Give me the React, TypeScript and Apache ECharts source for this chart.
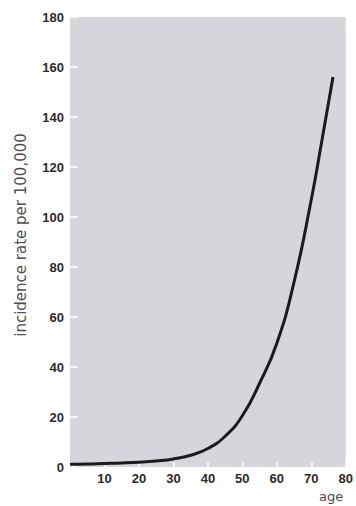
import React, { useEffect, useRef } from "react";
import * as echarts from "echarts";

const ages = [0, 5, 10, 15, 20, 25, 30, 35, 40, 45, 50, 55, 60, 65, 70, 73, 76.3];
const incidence = [1.1, 1.2, 1.4, 1.6, 1.9, 2.4, 3.2, 4.7, 7.4, 12.3, 20.5, 33.5, 49.5, 74, 107, 130, 156];
const yTicks = [0, 20, 40, 60, 80, 100, 120, 140, 160, 180];
const xTicks = [0, 10, 20, 30, 40, 50, 60, 70, 80];
const yName = "incidence rate per 100,000";
const xName = "age";

export default function App() {
  const ref = useRef<HTMLDivElement>(null);
  useEffect(() => {
    if (!ref.current) return;
    const chart = echarts.init(ref.current, null, { renderer: "svg" });
    const data = ages.map((a, i) => [a, incidence[i]]);
    chart.setOption({
      animation: false,
      backgroundColor: "#ffffff",
      grid: {
        left: 70,
        right: 8,
        top: 17,
        bottom: 39,
        show: true,
        backgroundColor: "#d8d4dc",
        borderWidth: 0,
      },
      xAxis: {
        type: "value",
        min: xTicks[0],
        max: xTicks[xTicks.length - 1],
        interval: 10,
        axisLine: { show: false },
        axisTick: { show: true, inside: true, length: 5, lineStyle: { color: "#ffffff", width: 1.5 } },
        splitLine: { show: false },
        axisLabel: {
          formatter: (v: number) => (v === 0 ? "" : String(v)),
          fontFamily: "Liberation Sans",
          fontWeight: "bold",
          fontSize: 13,
          color: "#2b2b2b",
          margin: 5,
        },
      },
      yAxis: {
        type: "value",
        min: yTicks[0],
        max: yTicks[yTicks.length - 1],
        interval: 20,
        name: yName,
        nameLocation: "middle",
        nameGap: 42,
        nameTextStyle: {
          fontFamily: "DejaVu Sans",
          fontSize: 15,
          color: "#4f4f4f",
          padding: [0, 0, 0, 14],
        },
        axisLine: { show: false },
        axisTick: { show: true, inside: true, length: 8, lineStyle: { color: "#ffffff", width: 1.5 } },
        splitLine: { show: false },
        axisLabel: {
          fontFamily: "Liberation Sans",
          fontWeight: "bold",
          fontSize: 13,
          color: "#2b2b2b",
          margin: 6,
        },
      },
      graphic: [
        {
          type: "text",
          left: 319,
          top: 490,
          style: {
            text: xName,
            fontFamily: "DejaVu Sans",
            fontSize: 13,
            fill: "#4a4a4a",
          },
        },
      ],
      series: [
        {
          type: "line",
          data,
          smooth: 0.5,
          symbol: "none",
          lineStyle: { color: "#1c1a1c", width: 3 },
          clip: false,
        },
      ],
    });
    return () => chart.dispose();
  }, []);
  return <div ref={ref} style={{ position: "fixed", left: 0, top: 0, width: 356, height: 506 }} />;
}
